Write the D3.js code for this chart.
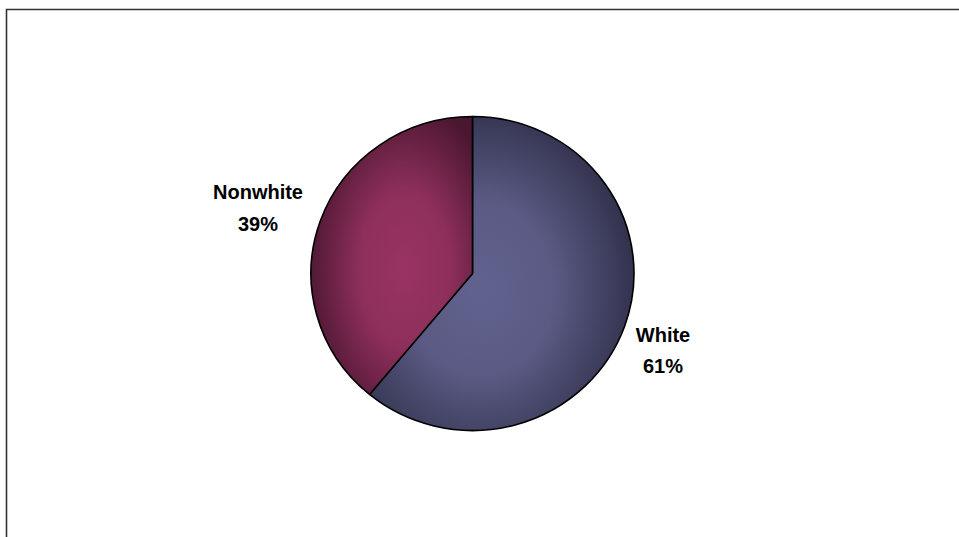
<!DOCTYPE html>
<html>
<head>
<meta charset="utf-8">
<script src="https://cdn.jsdelivr.net/npm/d3@7"></script>
<style>
  html, body { margin: 0; padding: 0; background: #ffffff; }
  svg { display: block; }
</style>
</head>
<body>
<svg id="chart" width="959" height="537"></svg>
<script>
// ---- data ----
const categories = ["White", "Nonwhite"];
const values = [61, 39];
const labels = ["61%", "39%"];
// colours: [center, edge]
const colorsLight = ["#62628f", "#9a3363"];
const colorsDark = ["#2e2e48", "#4a1630"];

const W = 959, H = 537;
const svg = d3.select("#chart");

// frame (only top and left visible)
svg.append("path")
  .attr("d", "M6.5,537 L6.5,9.5 L959,9.5")
  .attr("fill", "none").attr("stroke", "#333").attr("stroke-width", 1.6);

const cx = 472.5, cy = 273.5, rx = 161.5, ry = 157;

const defs = svg.append("defs");
categories.forEach((c, i) => {
  const g = defs.append("radialGradient")
    .attr("id", "grad" + i)
    .attr("cx", i === 0 ? "0.42" : "0.58").attr("cy", "0.55")
    .attr("r", "0.62");
  g.append("stop").attr("offset", "0%").attr("stop-color", colorsLight[i]);
  g.append("stop").attr("offset", "45%").attr("stop-color", d3.interpolateRgb(colorsLight[i], colorsDark[i])(0.15));
  g.append("stop").attr("offset", "100%").attr("stop-color", colorsDark[i]);
});

const pie = d3.pie().sort(null).value(d => d)(values);
const arc = d3.arc().innerRadius(0).outerRadius(rx);

const g = svg.append("g")
  .attr("transform", `translate(${cx},${cy}) scale(1,${ry / rx})`);

g.selectAll("path.slice").data(pie).join("path")
  .attr("class", "slice")
  .attr("d", arc)
  .attr("fill", (d, i) => `url(#grad${i})`)
  .attr("stroke", "#000")
  .attr("stroke-width", 1.6)
  .attr("vector-effect", "non-scaling-stroke")
  .attr("stroke-linejoin", "round");

// labels
const labelPos = [
  { x: 663, y1: 342, y2: 373 },
  { x: 258, y1: 199, y2: 231 }
];
categories.forEach((c, i) => {
  const t = svg.append("text")
    .attr("text-anchor", "middle")
    .attr("font-family", "Liberation Sans, Arial, sans-serif")
    .attr("font-weight", "bold")
    .attr("font-size", 20)
    .attr("fill", "#000");
  t.append("tspan").attr("x", labelPos[i].x).attr("y", labelPos[i].y1).text(c);
  t.append("tspan").attr("x", labelPos[i].x).attr("y", labelPos[i].y2).text(labels[i]);
});
</script>
</body>
</html>
